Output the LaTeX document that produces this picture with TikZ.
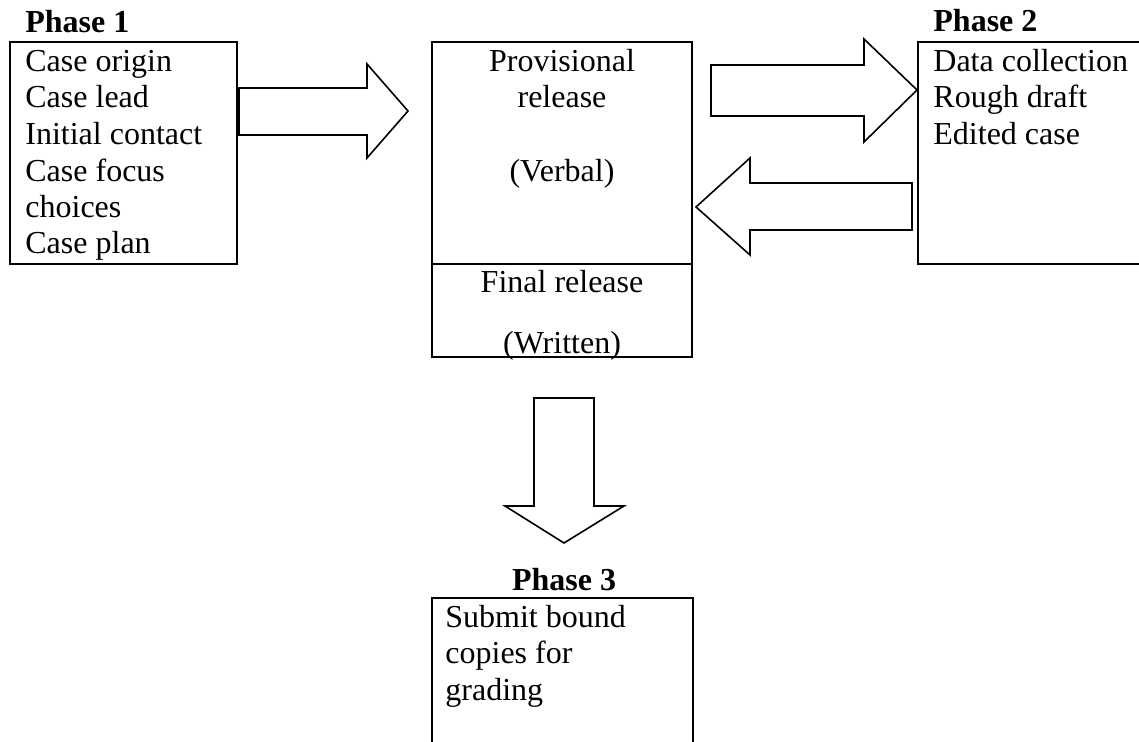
\documentclass[tikz,border=0pt]{standalone}
\usepackage{fontspec}
\setmainfont{Liberation Serif}
\begin{document}
\begin{tikzpicture}[x=0.5pt,y=-0.5pt,
  box/.style={draw=black,line width=1pt},
  blockarrow/.style={draw=black,line width=0.8pt,fill=white,line join=miter},
  txt/.style={inner sep=0pt,anchor=base west,font=\fontsize{16}{18}\selectfont},
  ctxt/.style={inner sep=0pt,anchor=base,font=\fontsize{16}{18}\selectfont},
  head/.style={inner sep=0pt,font=\fontsize{16}{18}\selectfont\bfseries}]
\useasboundingbox (0,0) rectangle (1139,742);
\clip (0,0) rectangle (1139,742);

% Phase 1
\node[head,anchor=base west] (h1) at (25,33) {Phase 1};
\draw[box] (10,42) rectangle (237,264);
\coordinate (b1) at (10,42);
\node[txt] (p1a) at (25,72) {Case origin};
\node[txt] (p1b) at (25,108) {Case lead};
\node[txt] (p1c) at (25,145) {Initial contact};
\node[txt] (p1d) at (25,182) {Case focus};
\node[txt] (p1e) at (25,218) {choices};
\node[txt] (p1f) at (25,254) {Case plan};

% Arrow 1
\draw[blockarrow] (239,88) -- (367,88) -- (367,64) -- (408,111) -- (367,158) -- (367,135) -- (239,135) -- cycle;

% Center box
\draw[box] (432,42) rectangle (692,357);
\draw[box] (432,264) -- (692,264);
\node[ctxt] (c1) at (562,72) {Provisional};
\node[ctxt] (c2) at (562,108) {release};
\node[ctxt] (c3) at (562,182) {(Verbal)};
\node[ctxt] (c4) at (562,293) {Final release};
\node[ctxt] (c5) at (562,354) {(Written)};

% Arrow 2 (right)
\draw[blockarrow] (711,65) -- (864,65) -- (864,39) -- (917,90) -- (864,142) -- (864,116) -- (711,116) -- cycle;

% Arrow 3 (left)
\draw[blockarrow] (912,183) -- (750,183) -- (750,158) -- (696,207) -- (750,255) -- (750,230) -- (912,230) -- cycle;

% Phase 2
\node[head,anchor=base west] (h2) at (933,32) {Phase 2};
\draw[box] (918,42) rectangle (1170,264);
\node[txt] (p2a) at (933,72) {Data collection};
\node[txt] (p2b) at (933,108) {Rough draft};
\node[txt] (p2c) at (933,145) {Edited case};

% Down arrow
\draw[blockarrow] (534,398) -- (594,398) -- (594,506) -- (624,506) -- (564,543) -- (505,506) -- (534,506) -- cycle;

% Phase 3
\node[head,anchor=base] (h3) at (564,590) {Phase 3};
\draw[box] (432,598) rectangle (693,780);
\node[txt] (p3a) at (445,627) {Submit bound};
\node[txt] (p3b) at (445,663) {copies for};
\node[txt] (p3c) at (445,700) {grading};
\end{tikzpicture}
\end{document}
